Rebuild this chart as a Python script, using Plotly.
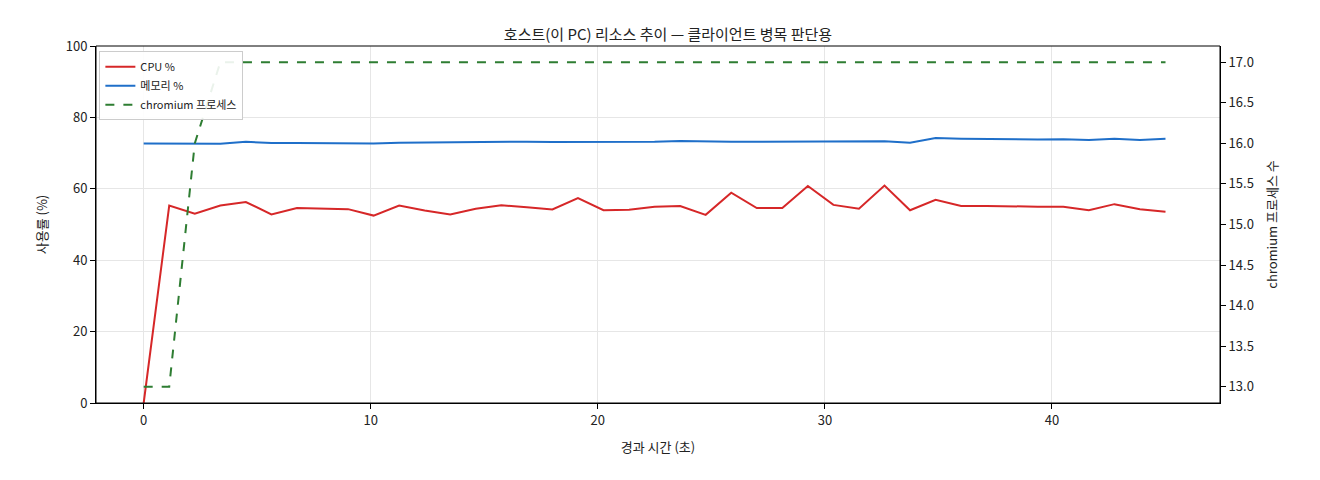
import plotly.graph_objects as go

elapsed = [round(i * 45 / 40, 3) for i in range(41)]
cpu = [0, 55.3, 53.0, 55.3, 56.3, 52.8, 54.6, 54.4, 54.3, 52.5, 55.3, 53.9, 52.8, 54.4, 55.4,
       54.8, 54.2, 57.4, 54.0, 54.1, 55.0, 55.2, 52.7, 58.9, 54.6, 54.6, 60.8, 55.5, 54.4, 60.9,
       54.0, 56.9, 55.2, 55.2, 55.0, 55.0, 55.0, 54.0, 55.7, 54.3, 53.6]
mem = [72.7, 72.6, 72.7, 72.6, 73.2, 72.8, 72.8, 72.7, 72.7, 72.7, 72.9, 73.0, 73.0, 73.0, 73.1,
       73.2, 73.1, 73.1, 73.2, 73.2, 73.2, 73.4, 73.2, 73.2, 73.2, 73.2, 73.1, 73.1, 73.2, 73.3,
       72.9, 74.2, 74.0, 73.9, 73.8, 73.8, 73.9, 73.7, 74.0, 73.7, 74.0]
procs = [13, 13, 16] + [17] * 38

fnt = "Noto Sans CJK KR"
fig = go.Figure()
fig.add_trace(go.Scatter(x=elapsed, y=cpu, mode="lines", name="CPU %",
                         line=dict(color="#d62728", width=2)))
fig.add_trace(go.Scatter(x=elapsed, y=mem, mode="lines", name="메모리 %",
                         line=dict(color="#1f6fc9", width=2)))
fig.add_trace(go.Scatter(x=elapsed, y=procs, mode="lines", name="chromium 프로세스", yaxis="y2",
                         line=dict(color="#2e7d32", width=2, dash="dash")))

axis_common = dict(showline=True, linecolor="black", mirror=False, ticks="outside",
                   tickcolor="black", zeroline=False, tickfont=dict(size=13, color="#222"))
fig.update_layout(
    width=1320, height=480, plot_bgcolor="white", paper_bgcolor="white",
    font=dict(family=fnt, color="#222"),
    margin=dict(l=88, r=108, t=38, b=85),
    title=dict(text="호스트(이 PC) 리소스 추이 — 클라이언트 병목 판단용", x=0.5, xanchor="center",
               y=0.955, font=dict(size=15)),
    xaxis=dict(range=[-2.1, 47.4], title=dict(text="경과 시간 (초)", font=dict(size=13)),
               showgrid=True, gridcolor="#e6e6e6", dtick=10, **axis_common),
    yaxis=dict(range=[0, 100], title=dict(text="사용률 (%)", font=dict(size=13)),
               showgrid=True, gridcolor="#e6e6e6", dtick=20, **axis_common),
    yaxis2=dict(range=[12.8, 17.2], overlaying="y", side="right", dtick=0.5, tickformat=".1f",
                title=dict(text="chromium 프로세스 수", font=dict(size=13)),
                showgrid=False, **axis_common),
    legend=dict(x=0.003, y=0.985, xanchor="left", yanchor="top", bgcolor="rgba(255,255,255,0.9)",
                bordercolor="#ccc", borderwidth=1, font=dict(size=11)),
    shapes=[dict(type="rect", xref="paper", yref="paper", x0=0, x1=1, y0=0, y1=1,
                 line=dict(color="black", width=1))],
)
fig.write_html("out.html")
